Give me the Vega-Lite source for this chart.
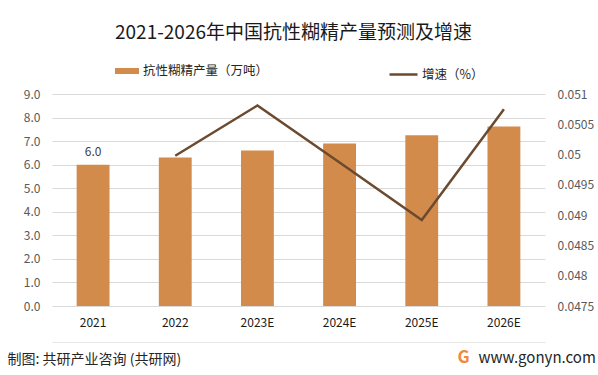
{
  "$schema": "https://vega.github.io/schema/vega-lite/v6.json",
  "width": 493,
  "height": 212,
  "autosize": {"type": "none"},
  "padding": {"left": 52, "top": 94, "right": 53, "bottom": 69},
  "background": "white",
  "title": {
    "text": "2021-2026年中国抗性糊精产量预测及增速",
    "fontSize": 19,
    "fontWeight": "normal",
    "color": "#1a1a1a",
    "anchor": "middle",
    "frame": "group",
    "offset": 16,
    "dx": -5
  },
  "data": {
    "values": [
      {"year": "2021", "output": 6.0, "growth": null},
      {"year": "2022", "output": 6.3, "growth": 0.04998},
      {"year": "2023E", "output": 6.6, "growth": 0.05081},
      {"year": "2024E", "output": 6.9, "growth": 0.04987},
      {"year": "2025E", "output": 7.25, "growth": 0.04892},
      {"year": "2026E", "output": 7.62, "growth": 0.05075}
    ]
  },
  "encoding": {
    "x": {
      "field": "year",
      "type": "ordinal",
      "sort": null,
      "scale": {"paddingInner": 0.6, "paddingOuter": 0.3},
      "axis": {
        "title": "G",
        "titleX": 411,
        "titleY": 15,
        "titleAlign": "center",
        "titleBaseline": "middle",
        "titleColor": "#f08a3c",
        "titleFontSize": 17,
        "titleFontWeight": "bold",
        "labelAngle": 0,
        "labelFontSize": 12,
        "labelColor": "#1a1a1a",
        "labelPadding": -25,
        "offset": 36,
        "domain": true,
        "domainColor": "#e6e6e6",
        "domainWidth": 1,
        "ticks": false
      }
    }
  },
  "layer": [
    {
      "encoding": {
        "y": {
          "field": "output",
          "type": "quantitative",
          "scale": {"domain": [0, 9], "nice": false},
          "axis": {
            "values": [0, 1, 2, 3, 4, 5, 6, 7, 8, 9],
            "format": ".1f",
            "labelFontSize": 12,
            "labelColor": "#595959",
            "labelPadding": 12,
            "domain": false,
            "ticks": false,
            "grid": true,
            "gridColor": "#d9d9d9",
            "gridWidth": 1,
            "title": "制图: 共研产业咨询 (共研网)",
            "titleAngle": 0,
            "titleX": -45,
            "titleY": 265,
            "titleAlign": "left",
            "titleBaseline": "middle",
            "titleFontSize": 14,
            "titleFontWeight": "normal",
            "titleColor": "#262626"
          }
        }
      },
      "layer": [
        {
          "mark": {"type": "bar"},
          "encoding": {
            "fill": {
              "datum": "抗性糊精产量（万吨）",
              "scale": {"range": ["#d38b4c"]},
              "legend": {
                "orient": "none",
                "legendX": 63,
                "legendY": -35,
                "title": null,
                "padding": 0,
                "symbolType": "M-1,-0.25L1,-0.25L1,0.25L-1,0.25Z",
                "symbolSize": 576,
                "symbolStrokeWidth": 0,
                "labelOffset": 4,
                "labelFontSize": 12.5,
                "labelColor": "#262626"
              }
            }
          }
        },
        {
          "transform": [{"filter": "datum.year == '2021'"}],
          "mark": {"type": "text", "dy": -13, "fontSize": 12, "fill": "#404040"},
          "encoding": {
            "text": {"field": "output", "type": "quantitative", "format": ".1f"}
          }
        }
      ]
    },
    {
      "mark": {"type": "line", "strokeWidth": 2.5},
      "encoding": {
        "y": {
          "field": "growth",
          "type": "quantitative",
          "scale": {"domain": [0.0475, 0.051], "nice": false, "zero": false},
          "axis": {
            "orient": "right",
            "values": [0.0475, 0.048, 0.0485, 0.049, 0.0495, 0.05, 0.0505, 0.051],
            "format": "~f",
            "labelFontSize": 12,
            "labelColor": "#595959",
            "labelPadding": 12,
            "domain": false,
            "ticks": false,
            "grid": false,
            "title": "www.gonyn.com",
            "titleAngle": 0,
            "titleX": -67,
            "titleY": 263,
            "titleAlign": "left",
            "titleBaseline": "middle",
            "titleFontSize": 15,
            "titleFontWeight": "normal",
            "titleColor": "#262626"
          }
        },
        "stroke": {
          "datum": "增速（%）",
          "scale": {"range": ["#6b4a2f"]},
          "legend": {
            "orient": "none",
            "legendX": 336,
            "legendY": -35,
            "title": null,
            "padding": 0,
            "symbolType": "stroke",
            "symbolSize": 784,
            "symbolStrokeWidth": 2.5,
            "labelOffset": 3,
            "labelFontSize": 12.5,
            "labelColor": "#262626"
          }
        }
      }
    }
  ],
  "resolve": {"scale": {"y": "independent"}},
  "config": {
    "font": "Noto Sans CJK SC",
    "view": {"stroke": null}
  }
}
